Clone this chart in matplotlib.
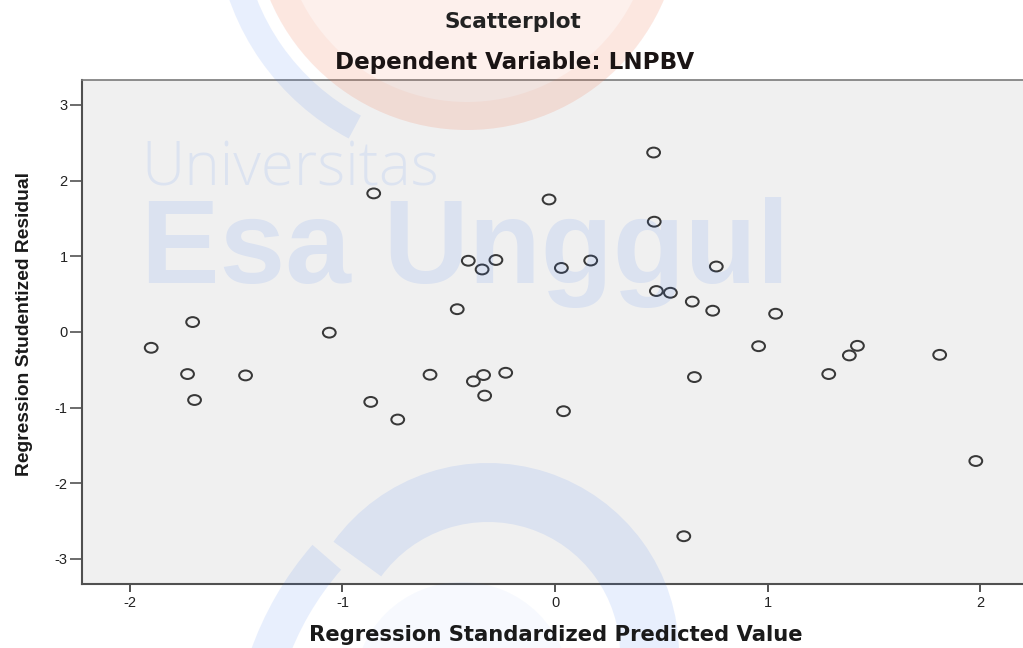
import numpy as np
import matplotlib
matplotlib.use("Agg")
import matplotlib.pyplot as plt
from matplotlib.path import Path
from matplotlib.patches import Wedge, Circle

# ---------------- data ----------------
pred = [-0.853, -0.028, -0.408, -0.343, -0.278, 0.030, -0.460, -1.705, -1.062,
        0.464, 0.467, 0.168, 0.759, 0.477, 0.543, 0.646, 0.742, 1.038,
        -1.900, -1.729, -1.456, -1.696, -0.588, -0.867, -0.740, -0.384, -0.336,
        -0.331, -0.232, 0.040, 0.656, 0.958, 1.288, 1.385, 1.423, 1.810, 1.980,
        0.606]
resid = [1.83, 1.75, 0.94, 0.825, 0.95, 0.845, 0.30, 0.13, -0.01,
         2.37, 1.456, 0.943, 0.864, 0.54, 0.517, 0.40, 0.28, 0.24,
         -0.21, -0.557, -0.575, -0.90, -0.566, -0.925, -1.158, -0.654, -0.57,
         -0.842, -0.54, -1.048, -0.597, -0.189, -0.557, -0.311, -0.184, -0.303, -1.706,
         -2.70]
x_ticks = [-2, -1, 0, 1, 2]
y_ticks = [-3, -2, -1, 0, 1, 2, 3]
title_main = "Scatterplot"
title_sub = "Dependent Variable: LNPBV"
x_label = "Regression Standardized Predicted Value"
y_label = "Regression Studentized Residual"
watermark_top = "Universitas"
watermark_main = "Esa Unggul"

W, H = 1023, 648
fig = plt.figure(figsize=(W / 100, H / 100), dpi=100)
fig.patch.set_facecolor("white")

def fx(px):
    return px / W

def fy(py):
    return 1 - py / H

# main axes (right edge runs slightly past the figure edge, as in the reference)
left_px, right_px, top_px, bot_px = 81.7, 1028.3, 79.5, 584.3
ax = fig.add_axes([fx(left_px), fy(bot_px), (right_px - left_px) / W, (bot_px - top_px) / H],
                  zorder=0)
ax.set_facecolor("#f0f0f0")
ax.set_xlim(-2.227, 2.227)
ax.set_ylim(-3.335, 3.335)

# elliptical open-circle marker (reference is horizontally stretched)
circ = Path.unit_circle()
ell = Path(circ.vertices * np.array([1.0, 1 / 1.3]), circ.codes)
ax.scatter(pred, resid, marker=ell, s=9.2 ** 2, facecolors="none",
           edgecolors="#383838", linewidths=1.45, zorder=3)

ax.set_xticks(x_ticks)
ax.set_yticks(y_ticks)
ax.set_xticklabels([str(v) for v in x_ticks])
ax.set_yticklabels([str(v) for v in y_ticks])
ax.tick_params(axis="x", direction="out", length=5.5, width=1.3, color="#444444",
               pad=3, labelsize=10.5, labelcolor="#222222")
ax.tick_params(axis="y", direction="out", length=9, width=1.1, color="#444444",
               pad=1, labelsize=10.5, labelcolor="#222222")
for lab in ax.get_xticklabels() + ax.get_yticklabels():
    lab.set_fontfamily(["Liberation Sans", "DejaVu Sans"])

for side in ["left", "bottom"]:
    ax.spines[side].set_color("#505050")
    ax.spines[side].set_linewidth(1.5)
ax.spines["top"].set_color("#7a7a7a")
ax.spines["top"].set_linewidth(1.2)
ax.spines["right"].set_visible(False)

# ---------------- watermark overlay (below the texts) ----------------
ov = fig.add_axes([0, 0, 1, 1], zorder=1)
ov.set_xlim(0, W)
ov.set_ylim(H, 0)
ov.axis("off")
ov.patch.set_alpha(0)

blue = (0.20, 0.45, 0.95)
orange = (0.95, 0.45, 0.30)
ov.add_patch(Circle((467, -84), 214, facecolor=orange, edgecolor="none", alpha=0.10))
ov.add_patch(Wedge((467, -84), 214, 0, 360, width=28, facecolor=orange,
                   edgecolor="none", alpha=0.07))
ov.add_patch(Wedge((467, -84), 252, 118, 172, width=26, facecolor=blue,
                   edgecolor="none", alpha=0.11))
ov.add_patch(Wedge((488, 654), 191, 216, 360, width=59, facecolor=blue,
                   edgecolor="none", alpha=0.11))
ov.add_patch(Wedge((560, 760), 328, 199, 221, width=38, facecolor=blue,
                   edgecolor="none", alpha=0.11))
ov.add_patch(Circle((462, 690), 108, facecolor=blue, edgecolor="none", alpha=0.04))

renderer = fig.canvas.get_renderer()

def fit(t, target, use_height=False):
    bb = t.get_window_extent(renderer)
    cur = bb.height if use_height else bb.width
    t.set_fontsize(t.get_fontsize() * target / cur)

wm1 = ov.text(141, 185, watermark_top, ha="left", va="baseline", fontsize=30,
              family=["Open Sans", "DejaVu Sans"], fontweight="light",
              color=blue, alpha=0.10)
wm2 = ov.text(141, 283, watermark_main, ha="left", va="baseline", fontsize=80,
              family=["Liberation Sans", "DejaVu Sans"], fontweight="bold",
              color=blue, alpha=0.11)
fit(wm1, 298)
fit(wm2, 648)

# ---------------- texts ----------------
bold = ["DejaVu Sans"]
t1 = fig.text(fx(513), fy(22), title_main, ha="center", va="center",
              fontsize=15, fontweight="bold", family=bold, color="#222222", zorder=3)
t2 = fig.text(fx(515), fy(62), title_sub, ha="center", va="center",
              fontsize=15, fontweight="bold", family=bold, color="#1a1414", zorder=3)
t3 = fig.text(fx(556), fy(635), x_label, ha="center", va="center",
              fontsize=15, fontweight="bold", family=bold, color="#1a1a1a", zorder=3)
t4 = fig.text(fx(25), fy(323.5), y_label, ha="center", va="center", rotation=90,
              fontsize=15, fontweight="bold",
              family=["Liberation Sans Narrow", "Liberation Sans", "DejaVu Sans"],
              color="#1a1a1a", zorder=3)

fit(t1, 138)
fit(t2, 360)
fit(t3, 495)
fit(t4, 307, use_height=True)

fig.savefig("out.png", dpi=100)
